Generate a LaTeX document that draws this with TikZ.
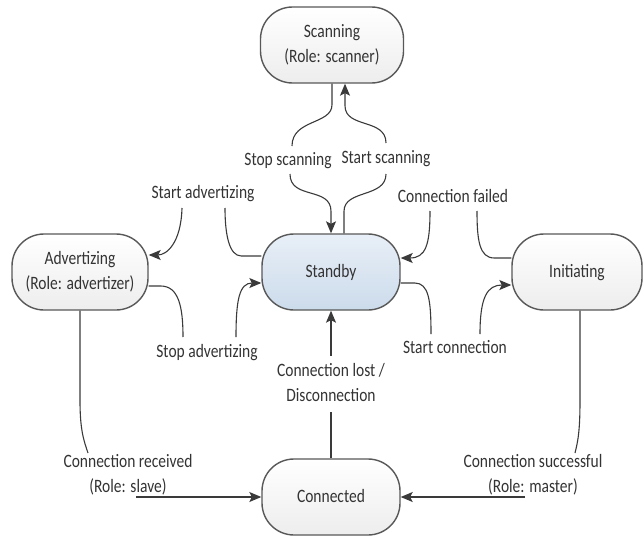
\documentclass[tikz,border=0pt]{standalone}
\usepackage{fontspec}
\setmainfont{Carlito}
\usepackage{graphicx}
\usetikzlibrary{arrows.meta,calc}

\definecolor{txt}{HTML}{333333}
\definecolor{wire}{HTML}{3A3A3A}
\definecolor{boxline}{HTML}{585858}
\definecolor{stbytop}{HTML}{E8EFF7}
\definecolor{stbybot}{HTML}{CCDBEB}

% text set a little taller than wide, centred lines
\newcommand{\lbltxt}[1]{\scalebox{1}[1.22]{\fontsize{15.5}{20.5}\selectfont\begin{tabular}{@{}c@{}}#1\end{tabular}}}

\tikzset{
  stbox/.style={draw=boxline, line width=1.4pt, rounded corners=32pt,
    minimum width=#1, minimum height=76pt, inner sep=0pt, text=txt,
    top color=white, bottom color=black!7},
  lbl/.style={inner sep=0pt, text=txt},
  wireln/.style={draw=wire, line width=1.1pt},
  arr/.style={wireln, -{Stealth[length=12pt,width=10pt,inset=2.5pt]}}
}

\begin{document}
\begin{tikzpicture}[x=1pt,y=-1pt]
\useasboundingbox (0,0) rectangle (643,543);

% states
\node[stbox=143pt] (scan) at (332,45)  {\lbltxt{Scanning\\(Role: scanner)}};
\node[stbox=138pt, top color=stbytop, bottom color=stbybot] (stby) at (331,272) {\lbltxt{Standby}};
\node[stbox=136pt] (adv)  at (80,272)  {\lbltxt{Advertizing\\(Role: advertizer)}};
\node[stbox=130pt] (init) at (577,272) {\lbltxt{Initiating}};
\node[stbox=138pt] (conn) at (331,497) {\lbltxt{Connected}};

% transition labels
\node[lbl] (lStopScan)  at (288,160) {\lbltxt{Stop scanning}};
\node[lbl] (lStartScan) at (386,158) {\lbltxt{Start scanning}};
\node[lbl] (lStartAdv)  at (203,193) {\lbltxt{Start advertizing}};
\node[lbl] (lStopAdv)   at (207,352) {\lbltxt{Stop advertizing}};
\node[lbl] (lConnFail)  at (453,197) {\lbltxt{Connection failed}};
\node[lbl] (lStartConn) at (455,348) {\lbltxt{Start connection}};
\node[lbl] (lLost)      at (331,384) {\lbltxt{Connection lost /\\Disconnection}};
\node[lbl] (lRecv)      at (128,475) {\lbltxt{Connection received\\(Role: slave)}};
\node[lbl] (lSucc)      at (533,475) {\lbltxt{Connection successful\\(Role: master)}};

% Scanning <-> Standby
\draw[wireln] (scan.south) -- ++(0,21) .. controls +(0,20) and +(0,-27) .. ($(lStopScan)+(4,-14)$);
\draw[arr] ($(lStopScan)+(2,14)$) .. controls +(0,26) and +(0,-25) .. ($(stby.north)+(0,-22)$) -- (stby.north);
\draw[wireln] ($(stby.north)+(13,0)$) -- ++(0,-22) .. controls +(0,-22) and +(0,24) .. ($(lStartScan)+(0,16)$);
\draw[arr] ($(lStartScan)+(0,-15)$) .. controls +(0,-25) and +(0,23) .. ($(scan.south)+(13,22)$) -- ($(scan.south)+(13,0)$);

% Advertizing <-> Standby
\draw[wireln] ($(stby.west)+(0,-16)$) -- ++(-20,0) .. controls +(-12,0) and +(0,27) .. ($(lStartAdv)+(22,15)$);
\draw[arr] ($(lStartAdv)+(-21,15)$) .. controls +(-1,35) and +(18,0) .. ($(adv.east)+(0,-17)$);
\draw[wireln] ($(adv.east)+(0,14)$) -- ++(12,0) .. controls +(18,0) and +(0,-30) .. ($(lStopAdv)+(-24,-15)$);
\draw[arr] ($(lStopAdv)+(29,-15)$) .. controls +(0,-37) and +(-22,0) .. ($(stby.west)+(0,11)$);

% Initiating <-> Standby
\draw[wireln] ($(init.west)+(0,-14)$) -- ++(-17,0) .. controls +(-15,0) and +(0,29) .. ($(lConnFail)+(24,14)$);
\draw[arr] ($(lConnFail)+(-23,14)$) .. controls +(0,34) and +(25,0) .. ($(stby.east)+(0,-14)$);
\draw[wireln] ($(stby.east)+(0,11)$) -- ++(14,0) .. controls +(14,0) and +(0,-34) .. ($(lStartConn)+(-24,-14)$);
\draw[arr] ($(lStartConn)+(25,-14)$) .. controls +(0,-37) and +(-24,0) .. ($(init.west)+(0,13)$);

% Connected -> Standby
\draw[wireln] (conn.north) -- ($(lLost)+(0,28)$);
\draw[arr] ($(lLost)+(0,-28)$) -- (stby.south);

% Advertizing -> Connected
\draw[wireln] (adv.south) -- ++(0,90) .. controls +(0,30) and +(-4,-12) .. ($(lRecv)+(-40,-22)$);
\draw[arr] ($(lRecv)+(8,22)$) -- (conn.west);

% Initiating -> Connected
\draw[wireln] ($(init.south)+(3,0)$) -- ++(0,90) .. controls +(0,30) and +(3,-12) .. ($(lSucc)+(42,-22)$);
\draw[arr] ($(lSucc)+(-8,22)$) -- (conn.east);
\end{tikzpicture}
\end{document}
